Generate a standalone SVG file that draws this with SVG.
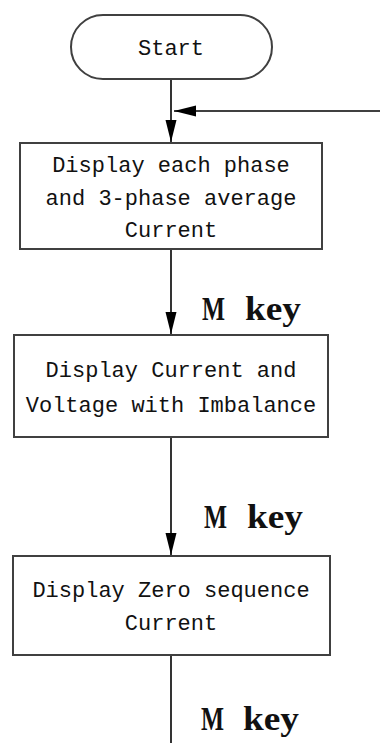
<svg xmlns="http://www.w3.org/2000/svg" width="380" height="743" viewBox="0 0 380 743">
<style>
.box{fill:#fff;stroke:#404040;stroke-width:2}
.t{font-family:"Liberation Mono","DejaVu Sans Mono",monospace;font-size:22px;fill:#111;text-anchor:middle}
.k{font-family:"Liberation Serif","DejaVu Serif",serif;font-size:33px;font-weight:bold;fill:#111}
.ln{stroke:#000;stroke-width:1.6;fill:none}
</style>
<defs>
<marker id="ah" markerUnits="userSpaceOnUse" markerWidth="24" markerHeight="12" refX="22" refY="6" orient="auto">
<polygon points="0,0.5 22,6 0,11.5" fill="#000"/>
</marker>
</defs>
<rect width="380" height="743" fill="#fff"/>
<g id="connectors">
<line class="ln" x1="171" y1="79" x2="171" y2="142" marker-end="url(#ah)"/>
<line class="ln" x1="380" y1="111" x2="174" y2="111" marker-end="url(#ah)"/>
<line class="ln" x1="171" y1="249" x2="171" y2="334" marker-end="url(#ah)"/>
<line class="ln" x1="171" y1="437" x2="171" y2="555" marker-end="url(#ah)"/>
<line class="ln" x1="171" y1="655" x2="171" y2="743"/>
<text class="k" y="320"><tspan x="202" textLength="23" lengthAdjust="spacingAndGlyphs">M</tspan><tspan x="245" textLength="56" lengthAdjust="spacingAndGlyphs">key</tspan></text>
<text class="k" y="528"><tspan x="204" textLength="23" lengthAdjust="spacingAndGlyphs">M</tspan><tspan x="247" textLength="56" lengthAdjust="spacingAndGlyphs">key</tspan></text>
<text class="k" y="730"><tspan x="201" textLength="23" lengthAdjust="spacingAndGlyphs">M</tspan><tspan x="243" textLength="56" lengthAdjust="spacingAndGlyphs">key</tspan></text>
</g>
<g id="start">
<rect class="box" x="71" y="15" width="201" height="64" rx="32" ry="32"/>
<text class="t" x="171" y="55">Start</text>
</g>
<g id="box1">
<rect class="box" x="20" y="143" width="302" height="106"/>
<text class="t" x="171" y="172">Display each phase</text>
<text class="t" x="171" y="205">and 3-phase average</text>
<text class="t" x="171" y="237">Current</text>
</g>
<g id="box2">
<rect class="box" x="14" y="335" width="314" height="102"/>
<text class="t" x="171" y="377">Display Current and</text>
<text class="t" x="171" y="412">Voltage with Imbalance</text>
</g>
<g id="box3">
<rect class="box" x="13" y="556" width="317" height="99"/>
<text class="t" x="171" y="597">Display Zero sequence</text>
<text class="t" x="171" y="630">Current</text>
</g>
</svg>
